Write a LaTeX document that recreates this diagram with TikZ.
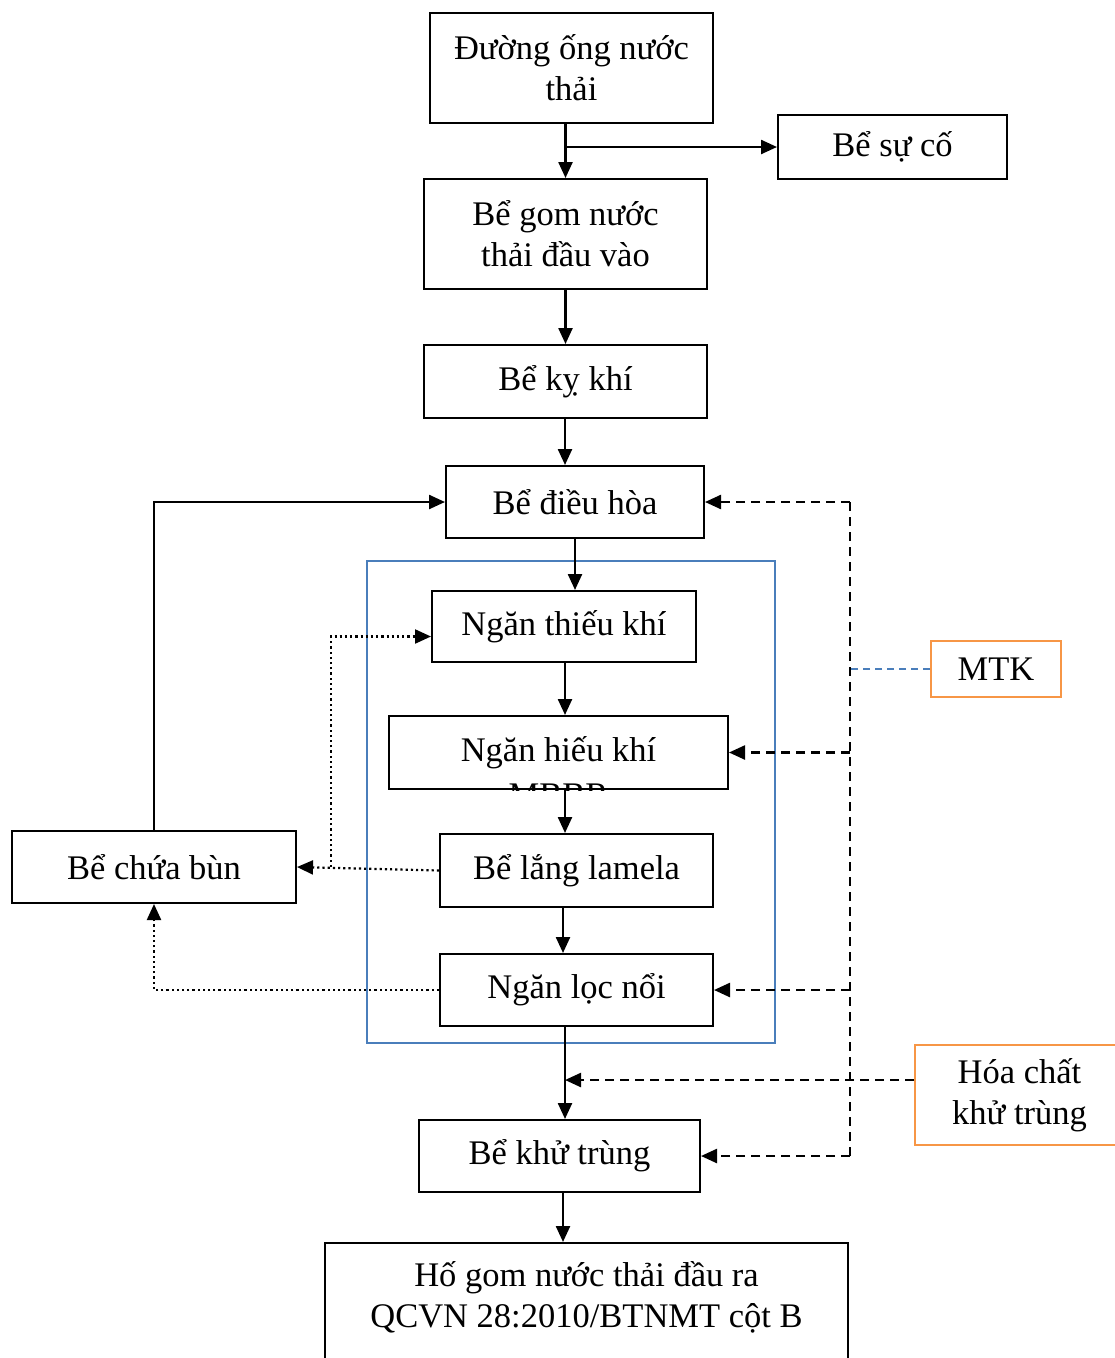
\documentclass[tikz,border=0pt]{standalone}
\usepackage{fontspec}
\setmainfont{Liberation Serif}
\usetikzlibrary{arrows.meta,calc,positioning}

\definecolor{KhungXanh}{HTML}{4A7EBB}
\definecolor{KhungCam}{HTML}{F79646}

\begin{document}
\begin{tikzpicture}[x=1pt,y=-1pt,
  every node/.style={draw,align=center,line width=2pt,inner sep=0pt,font=\fontsize{34.5}{41}\selectfont},
  muiten/.style={-{Triangle[length=16pt,width=14pt]},line width=2.4pt},
  chamcham/.style={-{Triangle[length=16pt,width=14pt]},line width=2.2pt,dash pattern=on 2.2pt off 3pt},
  netdut/.style={-{Triangle[length=16pt,width=14pt]},line width=2.4pt,dash pattern=on 9pt off 6pt},
  khungcam/.style={draw=KhungCam,line width=2pt}]
\useasboundingbox (0,0) rectangle (1115,1358);
\coordinate (Truc) at (565,0);
\coordinate (DuongMTK) at (850,0);
\coordinate (ReNhanh) at (331,0);
\node [draw=KhungXanh,line width=1.5pt,minimum width=408,minimum height=482] (KhungMBBR) at (571,802) {};
\node [minimum width=283,minimum height=110] (DuongOng) at (571.5,68) {Đường ống nước\\thải};
\node [minimum width=229,minimum height=64] (BeSuCo) at (892.5,147) {Bể sự cố};
\node [minimum width=283,minimum height=110] (BeGom) at (565.5,234) {Bể gom nước\\thải đầu vào};
\node [minimum width=283,minimum height=73] (BeKyKhi) at (565.5,381.5) {Bể kỵ khí};
\node [minimum width=258,minimum height=72] (BeDieuHoa) at (575,502) {Bể điều hòa};
\node [minimum width=264,minimum height=71] (NganThieuKhi) at (564,626.5) {Ngăn thiếu khí};
\node [minimum width=339,minimum height=73] (NganHieuKhi) at (558.5,752.5) {Ngăn hiếu khí};
\node [minimum width=273,minimum height=73] (BeLang) at (576.5,870.5) {Bể lắng lamela};
\node [minimum width=273,minimum height=72] (NganLoc) at (576.5,990) {Ngăn lọc nổi};
\node [minimum width=284,minimum height=72] (BeChuaBun) at (154,867) {Bể chứa bùn};
\node [minimum width=281,minimum height=72] (BeKhuTrung) at (559.5,1156) {Bể khử trùng};
\node [anchor=north,minimum width=523,minimum height=144] (HoGom) at (586.5,1242) {Hố gom nước thải đầu ra\\QCVN 28:2010/BTNMT cột B\\~};
\node [khungcam,minimum width=130,minimum height=56] (MTK) at (996,669) {MTK};
\node [khungcam,minimum width=209,minimum height=100] (HoaChat) at (1019.5,1095) {Hóa chất\\khử trùng};
\begin{scope}
\clip (NganHieuKhi.south west) rectangle (NganHieuKhi.north east);
\node [draw=none,anchor=base] (ChuMBBR) at (558.5,806) {MBBR};
\end{scope}
\draw [muiten] (BeGom.north |- DuongOng.south) -- (BeGom.north);
\draw [muiten] (BeGom.north |- BeSuCo.west) -- (BeSuCo.west);
\draw [muiten] (BeGom.south) -- (BeKyKhi.north);
\draw [muiten] (Truc |- BeKyKhi.south) -- (Truc |- BeDieuHoa.north);
\draw [muiten] (BeDieuHoa.south) -- (BeDieuHoa.south |- NganThieuKhi.north);
\draw [muiten] (Truc |- NganThieuKhi.south) -- (Truc |- NganHieuKhi.north);
\draw [muiten] (Truc |- NganHieuKhi.south) -- (Truc |- BeLang.north);
\draw [muiten] ($(Truc |- BeLang.south)+(-2,0)$) -- ($(Truc |- NganLoc.north)+(-2,0)$);
\draw [muiten] (Truc |- NganLoc.south) -- (Truc |- BeKhuTrung.north);
\draw [muiten] ($(Truc |- BeKhuTrung.south)+(-2,0)$) -- ($(Truc |- HoGom.north)+(-2,0)$);
\draw [muiten] (BeChuaBun.north) |- (BeDieuHoa.west);
\draw [chamcham] (BeLang.west) -- (BeChuaBun.east);
\draw [chamcham] (ReNhanh |- BeChuaBun.east) |- ($(NganThieuKhi.west)+(0,10)$);
\draw [chamcham] (NganLoc.west) -| (BeChuaBun.south);
\draw [netdut,-] (DuongMTK |- BeDieuHoa.east) -- (DuongMTK |- BeKhuTrung.east);
\foreach \dich in {BeDieuHoa,NganHieuKhi,NganLoc,BeKhuTrung}
  \draw [netdut] (DuongMTK |- \dich.east) -- (\dich.east);
\draw [KhungXanh,line width=1.5pt,dash pattern=on 7pt off 5pt] (MTK.west) -- (MTK.west -| DuongMTK);
\draw [netdut] ($(HoaChat.west)+(0,-15)$) -- ($(HoaChat.west -| Truc)+(0,-15)$);
\end{tikzpicture}
\end{document}
